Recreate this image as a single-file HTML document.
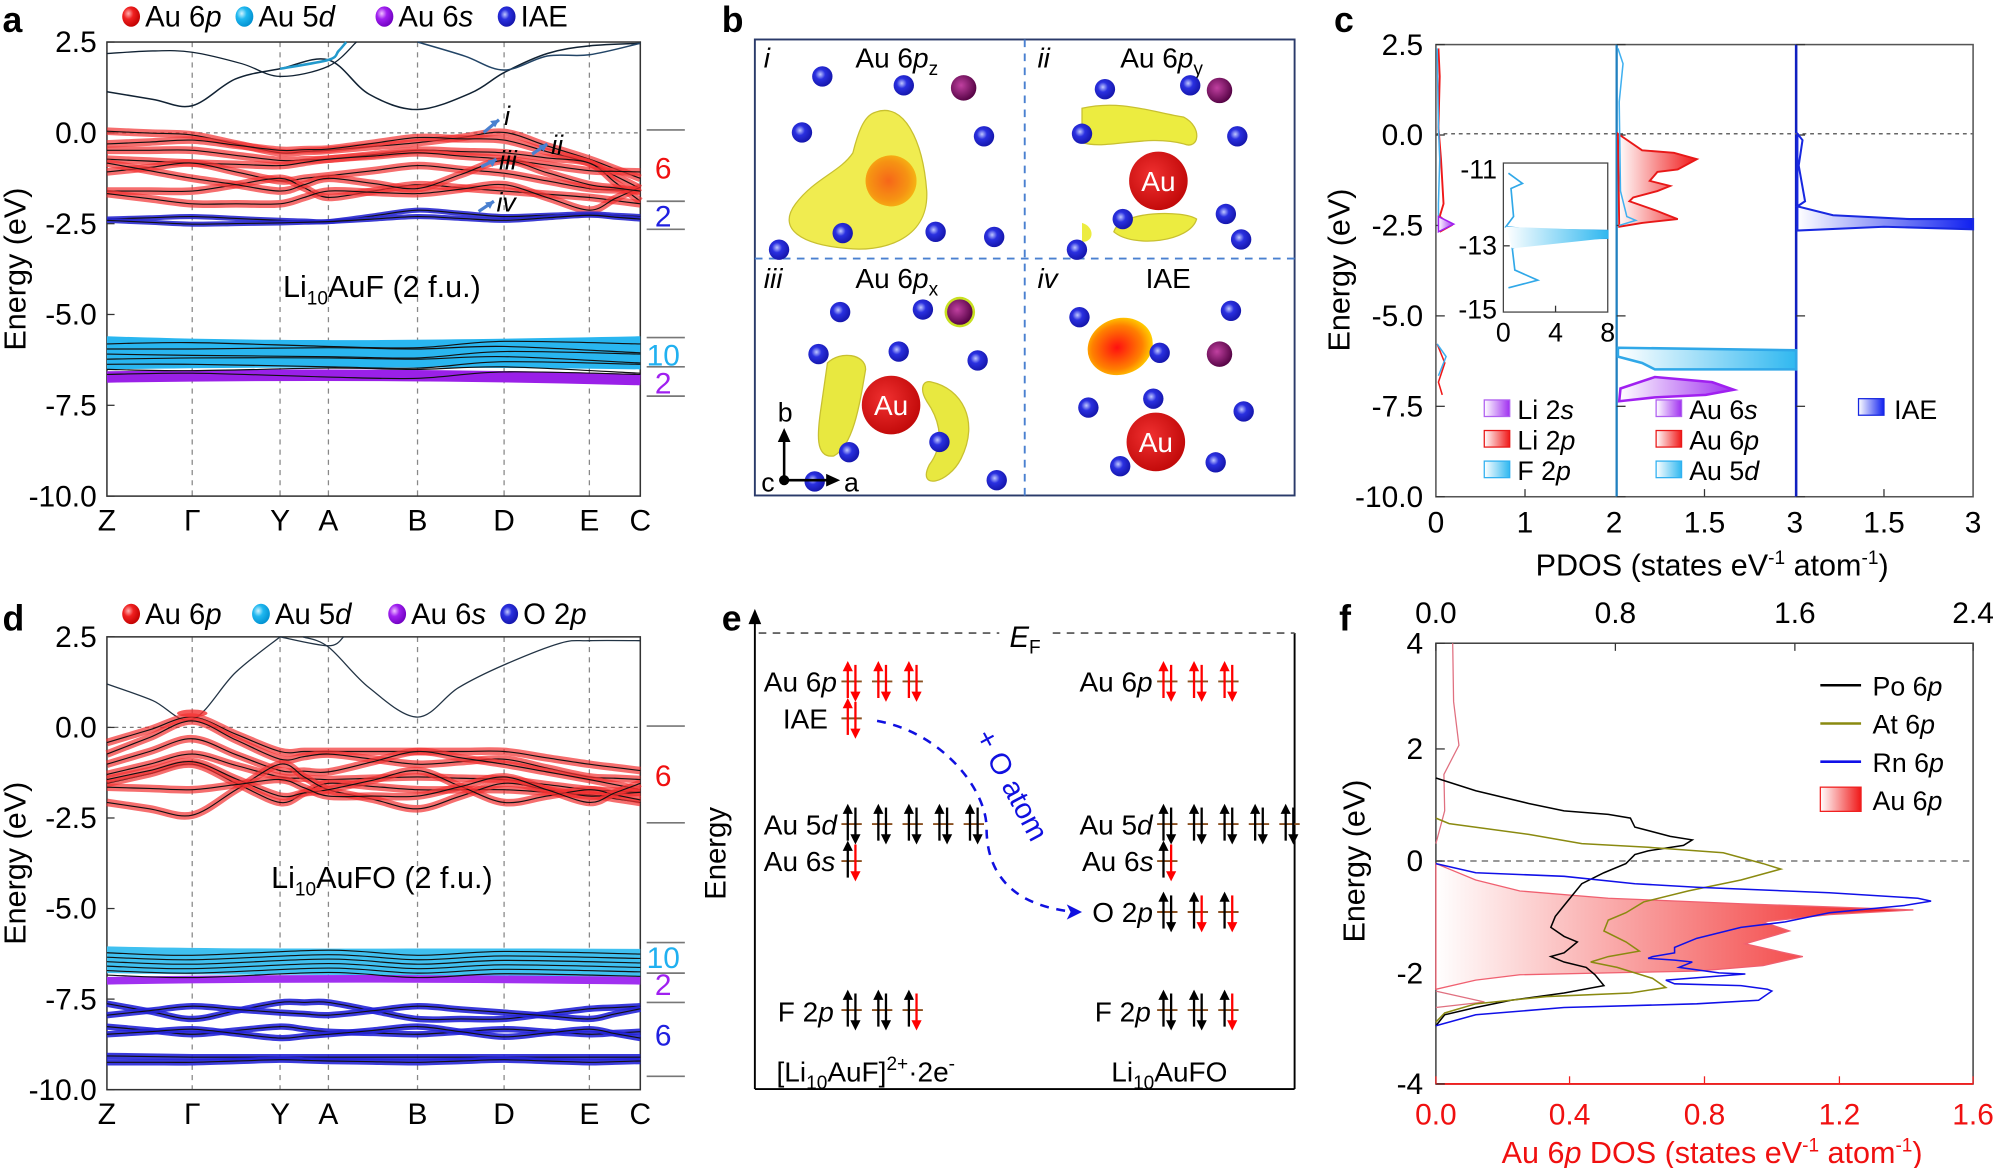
<!DOCTYPE html>
<html><head><meta charset="utf-8"><style>
html,body{margin:0;padding:0;background:#fff;}
svg{display:block;font-family:"Liberation Sans",Arial,sans-serif;}
</style></head><body>
<svg id="s" width="1996" height="1168" viewBox="0 0 1568 917" preserveAspectRatio="none" xmlns="http://www.w3.org/2000/svg">
<defs>
<radialGradient id="gR" cx="35%" cy="35%" r="70%"><stop offset="0" stop-color="#ffb0b0"/><stop offset="0.4" stop-color="#f02020"/><stop offset="1" stop-color="#c00000"/></radialGradient>
<radialGradient id="gC" cx="35%" cy="35%" r="70%"><stop offset="0" stop-color="#d0f4ff"/><stop offset="0.4" stop-color="#20b8f0"/><stop offset="1" stop-color="#0090d0"/></radialGradient>
<radialGradient id="gP" cx="35%" cy="35%" r="70%"><stop offset="0" stop-color="#f0c0ff"/><stop offset="0.4" stop-color="#a020f0"/><stop offset="1" stop-color="#7000c0"/></radialGradient>
<radialGradient id="gB" cx="40%" cy="40%" r="70%"><stop offset="0" stop-color="#c0c8ff"/><stop offset="0.35" stop-color="#2a30e0"/><stop offset="1" stop-color="#1010a0"/></radialGradient>
<radialGradient id="gAu" cx="40%" cy="40%" r="65%"><stop offset="0" stop-color="#f03030"/><stop offset="1" stop-color="#c00808"/></radialGradient>
<radialGradient id="gPu" cx="40%" cy="40%" r="65%"><stop offset="0" stop-color="#c040a0"/><stop offset="1" stop-color="#500040"/></radialGradient>
<radialGradient id="gHot" cx="45%" cy="50%" r="55%"><stop offset="0" stop-color="#ff1010"/><stop offset="0.7" stop-color="#ff8000"/><stop offset="1" stop-color="#ffd000"/></radialGradient>
<linearGradient id="lR" x1="0" x2="1"><stop offset="0" stop-color="#fff"/><stop offset="1" stop-color="#f01818"/></linearGradient>
<linearGradient id="lC" x1="0" x2="1"><stop offset="0" stop-color="#fff"/><stop offset="1" stop-color="#30b8f0"/></linearGradient>
<linearGradient id="lP" x1="0" x2="1"><stop offset="0" stop-color="#fff"/><stop offset="1" stop-color="#a030f0"/></linearGradient>
<linearGradient id="lB" x1="0" x2="1"><stop offset="0" stop-color="#fff"/><stop offset="1" stop-color="#1020f0"/></linearGradient>
</defs>
<g id="g"></g>
</svg>
<script>
var g=document.getElementById('g');var NS='http://www.w3.org/2000/svg';
function el(t,a,txt){var e=document.createElementNS(NS,t);for(var k in a)e.setAttribute(k,a[k]);if(txt!==undefined)e.innerHTML=txt;g.appendChild(e);return e;}
function T(x,y,s,o){o=o||{};var a={x:x,y:y,'font-size':o.fs||23.5,fill:o.c||'#000'};if(o.a)a['text-anchor']=o.a;if(o.w)a['font-weight']=o.w;if(o.st)a['font-style']=o.st;if(o.tr)a.transform=o.tr;return el('text',a,s);}
function L(x1,y1,x2,y2,c,w,d){var a={x1:x1,y1:y1,x2:x2,y2:y2,stroke:c||'#000','stroke-width':w||1};if(d)a['stroke-dasharray']=d;return el('line',a);}
function P(d,o){o=o||{};var a={d:d,fill:o.f||'none',stroke:o.s||'none','stroke-width':o.w||1};if(o.op)a.opacity=o.op;if(o.lc)a['stroke-linecap']=o.lc;if(o.da)a['stroke-dasharray']=o.da;return el('path',a);}
function smooth(pts){var d='M'+pts[0][0]+','+pts[0][1];for(var i=1;i<pts.length;i++){var p0=pts[Math.max(0,i-2)],p1=pts[i-1],p2=pts[i],p3=pts[Math.min(pts.length-1,i+1)];var c1x=p1[0]+(p2[0]-p0[0])/6,c1y=p1[1]+(p2[1]-p0[1])/6,c2x=p2[0]-(p3[0]-p1[0])/6,c2y=p2[1]-(p3[1]-p1[1])/6;d+=' C'+c1x.toFixed(1)+','+c1y.toFixed(1)+' '+c2x.toFixed(1)+','+c2y.toFixed(1)+' '+p2[0].toFixed(1)+','+p2[1].toFixed(1);}return d;}
var KX=[84,151,220,258,328,396,463,503];
function bandPts(ys){var pts=[];for(var i=0;i<ys.length;i++)pts.push([KX[i],ys[i]]);var out=[];for(var i=0;i<pts.length-1;i++){out.push(pts[i]);out.push([(pts[i][0]+pts[i+1][0])/2,(pts[i][1]+pts[i+1][1])/2]);}out.push(pts[pts.length-1]);return out;}
function band(ys,col,w,op){var d=smooth(bandPts(ys));if(col)P(d,{s:col,w:w,op:op||1,lc:'butt'});P(d,{s:'#111',w:0.9});}
function bandStructure(y0,dy){
 for(var i=1;i<7;i++)L(KX[i],y0,KX[i],y0+dy*5,'#888',1,'4,4');
 el('rect',{x:84,y:y0,width:419,height:dy*5,fill:'none',stroke:'#333','stroke-width':1.2});
 L(84,y0+dy,503,y0+dy,'#777',1,'3,3');
 var labs=['2.5','0.0','-2.5','-5.0','-7.5','-10.0'];
 for(var i=0;i<6;i++){T(76,y0+dy*i+8,labs[i],{a:'end'});L(84,y0+dy*i,90,y0+dy*i,'#333',1);}
 var kl=['Z','Γ','Y','A','B','D','E','C'];for(var i=0;i<8;i++)T(KX[i],y0+dy*5+27,kl[i],{a:'middle'});
 T(20,y0+dy*2.5,'Energy (eV)',{a:'middle',tr:'rotate(-90 20 '+(y0+dy*2.5)+')',fs:24});
}
// ---------- Panel a ----------
T(2,25,'a',{fs:28,w:'bold'});
var leg=[[103,'gR','Au 6<tspan font-style="italic">p</tspan>'],[192,'gC','Au 5<tspan font-style="italic">d</tspan>'],[302,'gP','Au 6<tspan font-style="italic">s</tspan>'],[398,'gB','IAE']];
leg.forEach(function(l){el('ellipse',{cx:l[0],cy:13,rx:7,ry:8,fill:'url(#'+l[1]+')'});T(l[0]+11,21,l[2],{fs:23});});
bandStructure(33,71.3);
P(smooth([[84,42],[120,40],[151,41],[190,50],[220,60],[258,52],[280,33]]),{s:'#123',w:1});
P(smooth([[84,72],[120,78],[151,83],[185,62],[220,54],[258,47],[290,74],[328,86],[370,73],[396,57],[430,42],[463,36],[503,34]]),{s:'#123',w:1.2});
P(smooth([[328,33],[365,44],[396,55],[430,44],[463,43],[503,34]]),{s:'#246',w:1.2});
P(smooth([[220,54],[258,47],[266,40],[272,33]]),{s:'#29c',w:2});
var redA=[[103,106,120,118,112,104,125,140],[113,110,118,117,108,110,128,148],[118,118,126,125,118,120,128,158],[125,128,130,125,120,125,134,135],[135,128,142,138,130,136,148,150],[150,150,140,155,145,150,155,160],[152,160,160,150,152,145,165,147],[128,140,150,140,148,126,145,150]];
redA.forEach(function(y){band(y,'#f23030',6,0.7);});
[[172,170,173,174,165,170,168,170],[173,176,175,174,170,173,169,172]].forEach(function(y){band(y,'#2828d0',4,0.9);});
P('M84,264 C200,268 300,268 503,264 L503,290 C350,288 200,288 84,290 Z',{f:'#29b6f0'});
P('M84,296 C200,294 350,294 503,298',{s:'#9a20e8',w:9});
for(var i=0;i<7;i++){var yy=270+i*4;P(smooth([[84,yy],[151,yy+(i%3)-1],[258,yy+2-(i%2)*3],[328,yy+3*((i+1)%2)],[396,yy-2],[503,yy+(i%2)*3]]),{s:'#111',w:0.9});}
T(300,233,'Li<tspan font-size="15" dy="6">10</tspan><tspan dy="-6">AuF (2 f.u.)</tspan>',{a:'middle',fs:24});
function barrow(x1,y1,x2,y2){L(x1,y1,x2,y2,'#4a80d0',2.5);P('M'+x2+','+y2+' l-7,1 l4,5 z',{f:'#4a80d0'});}
barrow(380,104,392,94);T(396,98,'i',{st:'italic',fs:21});
barrow(418,121,430,113);T(433,121,'ii',{st:'italic',fs:21});
barrow(378,131,390,125);T(392,133,'iii',{st:'italic',fs:21});
barrow(376,166,388,158);T(390,166,'iv',{st:'italic',fs:21});
[102,158,180,265,288,311].forEach(function(y){L(508,y,538,y,'#777',1.3);});
T(521,140,'6',{a:'middle',c:'#f01010'});T(521,178,'2',{a:'middle',c:'#2020e0'});T(521,287,'10',{a:'middle',c:'#20b0f0'});T(521,309,'2',{a:'middle',c:'#a020f0'});
// ---------- Panel d ----------
T(2,495,'d',{fs:28,w:'bold'});
var legd=[[103,'gR','Au 6<tspan font-style="italic">p</tspan>'],[205,'gC','Au 5<tspan font-style="italic">d</tspan>'],[312,'gP','Au 6<tspan font-style="italic">s</tspan>'],[400,'gB','O 2<tspan font-style="italic">p</tspan>']];
legd.forEach(function(l){el('ellipse',{cx:l[0],cy:482,rx:7,ry:8,fill:'url(#'+l[1]+')'});T(l[0]+11,490,l[2],{fs:23});});
bandStructure(500,71.1);
P(smooth([[84,537],[120,550],[151,565],[185,528],[220,500]]),{s:'#234',w:1});
P(smooth([[238,500],[258,508],[290,540],[328,563],[360,540],[396,522],[440,505],[463,503],[503,503]]),{s:'#234',w:1});
P(smooth([[220,500],[258,507],[270,500]]),{s:'#234',w:1});
var redD=[[583,563,590,590,590,590,600,605],[592,566,596,592,600,596,610,612],[600,580,605,606,590,600,612,620],[608,592,610,612,610,612,620,622],[615,600,630,615,620,620,624,630],[630,640,600,620,635,615,625,622],[612,598,625,620,605,630,620,628],[618,620,612,625,625,610,630,615]];
redD.forEach(function(y){band(y,'#f23030',6,0.7);});
el('ellipse',{cx:151,cy:560,rx:12,ry:3,fill:'#f23030',opacity:0.8});
P('M84,743 C200,746 350,744 503,745 L503,767 C350,765 200,766 84,764 Z',{f:'#3fc0f0'});
P('M84,770 C200,768 350,768 503,770',{s:'#a030f0',w:6});
for(var i=0;i<6;i++){var yy=748+i*3.5;P(smooth([[84,yy],[151,yy+2],[258,yy-2],[328,yy+2],[396,yy-1],[503,yy+1]]),{s:'#111',w:0.9});}
[[788,800,787,787,800,800,792,790],[797,790,795,797,790,795,800,792],[806,812,806,810,812,808,812,810],[812,808,815,812,806,814,808,815],[829,830,830,830,830,830,830,830],[834,834,832,833,834,832,834,833]].forEach(function(y){band(y,'#2525d8',5,0.9);});
T(300,697,'Li<tspan font-size="15" dy="6">10</tspan><tspan dy="-6">AuFO (2 f.u.)</tspan>',{a:'middle',fs:24});
[570,646,740,764,787,845].forEach(function(y){L(508,y,538,y,'#777',1.3);});
T(521,617,'6',{a:'middle',c:'#f01010'});T(521,760,'10',{a:'middle',c:'#20b0f0'});T(521,781,'2',{a:'middle',c:'#a020f0'});T(521,821,'6',{a:'middle',c:'#2020e0'});
// ---------- Panel b ----------
T(567,25,'b',{fs:28,w:'bold'});
el('rect',{x:593,y:31,width:424,height:358,fill:'none',stroke:'#2a3a6a','stroke-width':1.5});
L(805,31,805,389,'#4a80d0',1.5,'6,5');L(593,203,1017,203,'#4a80d0',1.5,'6,5');
function atom(x,y,r,f){el('circle',{cx:x,cy:y,r:r,fill:'url(#'+f+')'});}
function blue(x,y){atom(x,y,8,'gB');}
T(600,53,'i',{st:'italic',fs:22});T(672,53,'Au 6<tspan font-style="italic">p</tspan><tspan font-size="15" dy="6">z</tspan>',{fs:22});
P('M688,88 C710,80 725,110 728,150 C730,190 690,198 665,195 C630,192 610,180 625,160 C640,140 660,135 670,120 C675,100 680,90 688,88 Z',{f:'#f0ec50',s:'#c8c030',w:1});
atom(700,142,20,'gHot');el('circle',{cx:700,cy:142,r:20,fill:'#f0a020',opacity:0.6});
[[646,60],[710,67],[630,104],[773,107],[662,183],[735,182],[612,196],[781,186]].forEach(function(p){blue(p[0],p[1]);});atom(757,69,10,'gPu');
T(815,53,'ii',{st:'italic',fs:22});T(880,53,'Au 6<tspan font-style="italic">p</tspan><tspan font-size="15" dy="6">y</tspan>',{fs:22});
P('M850,85 C880,78 905,88 930,92 C945,100 942,118 930,113 C900,105 870,118 850,112 Z',{f:'#ecec40',s:'#c8c030',w:1});
P('M875,182 C880,165 930,165 940,172 C935,190 890,195 875,182 Z',{f:'#ecec40',s:'#c8c030',w:1});
P('M850,175 C860,178 860,190 850,190 Z',{f:'#ecec40'});
atom(910,142,23,'gAu');T(910,150,'Au',{a:'middle',c:'#fff',fs:22});
[[868,70],[935,67],[850,105],[972,107],[882,172],[963,168],[846,196],[975,188]].forEach(function(p){blue(p[0],p[1]);});atom(958,71,10,'gPu');
T(600,226,'iii',{st:'italic',fs:22});T(672,226,'Au 6<tspan font-style="italic">p</tspan><tspan font-size="15" dy="6">x</tspan>',{fs:22});
P('M650,285 C660,275 680,278 680,290 C675,320 670,350 655,358 C640,360 642,340 645,320 Z',{f:'#e8e840',s:'#c8c030',w:1});
P('M732,300 C755,305 770,330 755,360 C745,380 720,385 730,365 C745,345 735,325 728,315 C722,305 725,298 732,300 Z',{f:'#e8e840',s:'#c8c030',w:1});
atom(700,318,23,'gAu');T(700,326,'Au',{a:'middle',c:'#fff',fs:22});
[[660,245],[725,243],[643,278],[768,283],[667,355],[738,347],[640,378],[783,377]].forEach(function(p){blue(p[0],p[1]);});atom(706,276,8,'gB');
el('circle',{cx:754,cy:245,r:12,fill:'#c8e020'});atom(754,245,10,'gPu');
L(616,377,616,343,'#000',2);P('M616,336 l-5,11 l10,0 z',{f:'#000'});L(616,377,652,377,'#000',2);P('M660,377 l-11,-5 l0,10 z',{f:'#000'});
el('circle',{cx:616,cy:377,r:4,fill:'#000'});T(611,331,'b',{fs:21});T(598,386,'c',{fs:21});T(663,386,'a',{fs:21});
T(815,226,'iv',{st:'italic',fs:22});T(900,226,'IAE',{fs:22});
el('ellipse',{cx:880,cy:272,rx:26,ry:22,fill:'url(#gHot)',transform:'rotate(-20 880 272)'});
atom(908,347,23,'gAu');T(908,355,'Au',{a:'middle',c:'#fff',fs:22});
[[848,249],[967,244],[911,277],[855,320],[977,323],[880,366],[955,363]].forEach(function(p){blue(p[0],p[1]);});atom(906,313,8,'gB');atom(958,278,10,'gPu');
// ---------- Panel c ----------
T(1048,25,'c',{fs:28,w:'bold'});
var cy0=35,cdy=71;
el('rect',{x:1128,y:35,width:422,height:355,fill:'none',stroke:'#555','stroke-width':1.2});
L(1270,35,1270,390,'#2080c0',1.8);L(1411,35,1411,390,'#1020c0',2);
L(1128,105,1550,105,'#666',1.2,'3,3');
var cl=['2.5','0.0','-2.5','-5.0','-7.5','-10.0'];for(var i=0;i<6;i++){T(1118,cy0+cdy*i+8,cl[i],{a:'end'});[1128,1270,1411].forEach(function(x){L(x,cy0+cdy*i,x+7,cy0+cdy*i,'#333',1);});}
[[1128,'0'],[1198,'1'],[1268,'2'],[1339,'1.5'],[1410,'3'],[1480,'1.5'],[1550,'3']].forEach(function(t){T(t[0],418,t[1],{a:'middle'});});
[1198,1339,1480].forEach(function(x){L(x,390,x,384,'#333',1);});
T(1060,212,'Energy (eV)',{a:'middle',tr:'rotate(-90 1060 212)',fs:24});
T(1345,452,'PDOS (states eV<tspan font-size="15" dy="-9">-1</tspan><tspan dy="9"> atom</tspan><tspan font-size="15" dy="-9">-1</tspan><tspan dy="9">)</tspan>',{a:'middle',fs:24});
P('M1130,38 L1131,60 L1130,100 L1132,125 L1134,160 L1131,170 L1140,177 L1131,182',{s:'#f01818',w:1.5});
P('M1129,38 L1130,100 L1131,125 L1130,160 L1130,180',{s:'#40b0f0',w:1.2});
P('M1130,170 L1142,176 L1130,182 Z',{f:'url(#lP)',s:'#a020f0',w:1.2});
P('M1129,270 L1135,285 L1130,300 L1133,310',{s:'#f01818',w:1.2});P('M1129,270 L1136,280 L1130,295',{s:'#40b0f0',w:1.2});
el('rect',{x:1181,y:128,width:82,height:117,fill:'#fff',stroke:'#444','stroke-width':1});
T(1176,140,'-11',{a:'end',fs:21});T(1176,200,'-13',{a:'end',fs:21});T(1176,250,'-15',{a:'end',fs:21});
L(1181,193,1186,193,'#333');L(1222,245,1222,240,'#333');
T(1181,268,'0',{a:'middle',fs:21});T(1222,268,'4',{a:'middle',fs:21});T(1263,268,'8',{a:'middle',fs:21});
P('M1185,136 L1196,144 L1187,148 L1189,170 L1183,178 L1200,180 L1263,181 L1263,187 L1200,188 L1188,195 L1190,212 L1208,220 L1185,226',{s:'#30a8e8',w:1.3});
P('M1183,178 L1263,181 L1263,187 L1188,195 Z',{f:'url(#lC)'});
P('M1271,105 L1290,118 L1315,120 L1333,125 L1318,133 L1302,135 L1296,142 L1312,146 L1302,150 L1283,155 L1280,158 L1300,165 L1318,172 L1290,175 L1272,178 L1271,105 Z',{f:'url(#lR)',s:'#e81818',w:1.5});
P('M1271,38 L1275,50 L1272,80 L1273,150 L1278,170 L1285,173 L1272,177',{s:'#40b0f0',w:1.2});
P('M1271,273 L1411,275 L1411,290 L1300,290 L1290,285 L1271,280 Z',{f:'url(#lC)',s:'#30a8e8',w:2});
P('M1273,305 L1300,296 L1345,300 L1362,306 L1340,310 L1300,312 L1272,315 Z',{f:'url(#lP)',s:'#a020f0',w:2});
P('M1412,105 L1416,110 L1413,130 L1418,158 L1412,162 L1440,169 L1500,172 L1550,172 L1550,180 L1480,178 L1412,181 Z',{f:'url(#lB)',s:'#1828e0',w:1.6});
function lbox(x,y,g2,c){el('rect',{x:x,y:y,width:20,height:13,fill:'url(#'+g2+')',stroke:c,'stroke-width':1});}
lbox(1166,314,'lP','#b060f0');T(1192,329,'Li 2<tspan font-style="italic">s</tspan>',{fs:21});
lbox(1166,338,'lR','#e81818');T(1192,353,'Li 2<tspan font-style="italic">p</tspan>',{fs:21});
lbox(1166,362,'lC','#30b0f0');T(1192,377,'F 2<tspan font-style="italic">p</tspan>',{fs:21});
lbox(1301,314,'lP','#b060f0');T(1327,329,'Au 6<tspan font-style="italic">s</tspan>',{fs:21});
lbox(1301,338,'lR','#e81818');T(1327,353,'Au 6<tspan font-style="italic">p</tspan>',{fs:21});
lbox(1301,362,'lC','#30b0f0');T(1327,377,'Au 5<tspan font-style="italic">d</tspan>',{fs:21});
lbox(1460,313,'lB','#1828e0');T(1488,329,'IAE',{fs:21});
// ---------- Panel e ----------
T(567,495,'e',{fs:28,w:'bold'});
L(593,855,1017,855,'#000',1.5);L(1017,497,1017,855,'#000',1.5);L(593,855,593,484,'#000',1.5);P('M593,478 l-5,12 l10,0 z',{f:'#000'});
L(596,497,1017,497,'#666',1.5,'6,5');
el('rect',{x:785,y:488,width:40,height:30,fill:'#fff'});
T(793,508,'<tspan font-style="italic">E</tspan><tspan font-size="15" dy="5">F</tspan>',{fs:23});
T(570,670,'Energy',{a:'middle',tr:'rotate(-90 570 670)',fs:23});
function orb(x,y,cu,cd){L(x-8,y,x+8,y,'#8a5020',1.5);L(x-3,y+13,x-3,y-12,cu,1.8);P('M'+(x-3)+','+(y-16)+' l-4,8 l8,0 z',{f:cu});L(x+3,y-13,x+3,y+12,cd,1.8);P('M'+(x+3)+','+(y+16)+' l-4,-8 l8,0 z',{f:cd});}
function orbs(x,y,n,cols){for(var i=0;i<n;i++){orb(x+i*24,y,cols[i][0],cols[i][1]);}}
var RR=['#f00','#f00'],KK=['#000','#000'],KR=['#000','#f00'];
T(600,543,'Au 6<tspan font-style="italic">p</tspan>',{fs:22});orbs(669,535,3,[RR,RR,RR]);
T(615,572,'IAE',{fs:22});orbs(669,564,1,[RR]);
T(600,655,'Au 5<tspan font-style="italic">d</tspan>',{fs:22});orbs(669,647,5,[KK,KK,KK,KK,KK]);
T(600,684,'Au 6<tspan font-style="italic">s</tspan>',{fs:22});orbs(669,676,1,[KR]);
T(611,802,'F 2<tspan font-style="italic">p</tspan>',{fs:22});orbs(669,793,3,[KK,KK,KR]);
T(610,849,'[Li<tspan font-size="15" dy="6">10</tspan><tspan dy="-6">AuF]</tspan><tspan font-size="15" dy="-9">2+</tspan><tspan dy="9">·2e</tspan><tspan font-size="15" dy="-9">-</tspan>',{fs:22});
T(848,543,'Au 6<tspan font-style="italic">p</tspan>',{fs:22});orbs(917,535,3,[RR,RR,RR]);
T(848,655,'Au 5<tspan font-style="italic">d</tspan>',{fs:22});orbs(917,647,5,[KK,KK,KK,KK,KK]);
T(850,684,'Au 6<tspan font-style="italic">s</tspan>',{fs:22});orbs(917,676,1,[KR]);
T(858,724,'O 2<tspan font-style="italic">p</tspan>',{fs:22});orbs(917,716,3,[KK,KR,KR]);
T(860,802,'F 2<tspan font-style="italic">p</tspan>',{fs:22});orbs(917,793,3,[KK,KK,KR]);
T(873,849,'Li<tspan font-size="15" dy="6">10</tspan><tspan dy="-6">AuFO</tspan>',{fs:22});
P('M689,566 C740,575 775,620 775,650 C775,690 800,712 845,716',{s:'#1010e0',w:2,da:'7,6'});P('M850,716 l-12,-6 l3,6 l-3,6 z',{f:'#1010e0'});
T(788,620,'+ O atom',{a:'middle',c:'#1010e0',fs:23,tr:'rotate(62 788 620)'});
// ---------- Panel f ----------
T(1052,495,'f',{fs:28,w:'bold'});
function FX(z){return 1128+(z-310)*0.3473;}function FY(z){return 505+(z-140)*0.286;}
function poly(a){return 'M'+a.map(function(q){return FX(q[0]).toFixed(1)+','+FY(q[1]).toFixed(1);}).join(' L');}
el('rect',{x:1128,y:505,width:422,height:346,fill:'none',stroke:'#444','stroke-width':1.2});
L(1128,851,1550,851,'#f02020',1.5);
L(1128,676,1550,676,'#777',1.2,'5,4');
[[4,505],[2,588],[0,676],[-2,764],[-4,851]].forEach(function(t){T(1118,t[1]+8,t[0]+'',{a:'end'});L(1128,t[1],1135,t[1],'#333');});
[['0.0',1128],['0.8',1269],['1.6',1410],['2.4',1550]].forEach(function(t){T(t[1],489,t[0],{a:'middle'});L(t[1],505,t[1],511,'#333');});
[['0.0',1128],['0.4',1233],['0.8',1339],['1.2',1445],['1.6',1550]].forEach(function(t){T(t[1],883,t[0],{a:'middle',c:'#f01010'});L(t[1],851,t[1],845,'#f02020');});
T(1072,676,'Energy (eV)',{a:'middle',tr:'rotate(-90 1072 676)',fs:24});
T(1345,913,'Au 6<tspan font-style="italic">p</tspan> DOS (states eV<tspan font-size="15" dy="-9">-1</tspan><tspan dy="9"> atom</tspan><tspan font-size="15" dy="-9">-1</tspan><tspan dy="9">)</tspan>',{a:'middle',c:'#f01010',fs:24});
P(poly([[310,745],[400,790],[500,820],[700,840],[1000,855],[1390,872],[1200,885],[1050,905],[1110,930],[1010,965],[1100,990],[1140,1000],[1050,1025],[900,1040],[700,1045],[500,1050],[400,1065],[310,1090]])+' Z',{f:'url(#lR)',s:'#f06070',w:1});
P(poly([[310,690],[330,600],[328,500],[362,420],[350,300],[348,140]]),{s:'#e07080',w:1});
P(poly([[310,1095],[420,1125],[310,1140]]),{s:'#e07080',w:1});
P(poly([[310,510],[400,545],[520,580],[600,600],[700,610],[750,620],[760,645],[840,670],[890,680],[870,695],[790,710],[760,720],[740,745],[690,770],[640,800],[620,830],[600,860],[580,890],[570,920],[600,945],[630,960],[600,990],[570,1000],[600,1015],[650,1030],[670,1050],[690,1080],[600,1100],[480,1120],[400,1140],[330,1160],[310,1190]]),{s:'#000',w:1.2});
P(poly([[310,620],[340,635],[520,665],[640,690],[790,700],[960,715],[1050,745],[1090,760],[1000,790],[880,820],[780,850],[740,880],[700,900],[690,930],[740,960],[770,985],[700,1000],[660,1015],[720,1030],[800,1060],[830,1085],[750,1100],[560,1110],[400,1130],[330,1155],[310,1180]]),{s:'#8a8a10',w:1.2});
P(poly([[310,745],[400,770],[600,780],[760,800],[900,810],[1200,825],[1400,840],[1430,848],[1370,860],[1200,880],[1100,905],[1000,920],[950,935],[900,950],[850,975],[850,990],[800,1000],[790,1005],[850,1010],[890,1015],[860,1030],[950,1045],[1010,1048],[830,1065],[850,1075],[1000,1080],[1060,1090],[1070,1095],[1040,1120],[900,1130],[600,1140],[400,1160],[310,1190]]),{s:'#1010e8',w:1.2});
L(1430,538,1462,538,'#000',2);T(1471,546,'Po 6<tspan font-style="italic">p</tspan>',{fs:21});
L(1430,568,1462,568,'#8a8a10',2);T(1471,576,'At 6<tspan font-style="italic">p</tspan>',{fs:21});
L(1430,598,1462,598,'#1010e8',2);T(1471,606,'Rn 6<tspan font-style="italic">p</tspan>',{fs:21});
el('rect',{x:1430,y:618,width:32,height:19,fill:'url(#lR)',stroke:'#f02020','stroke-width':1});T(1471,636,'Au 6<tspan font-style="italic">p</tspan>',{fs:21});
</script>
</body></html>
